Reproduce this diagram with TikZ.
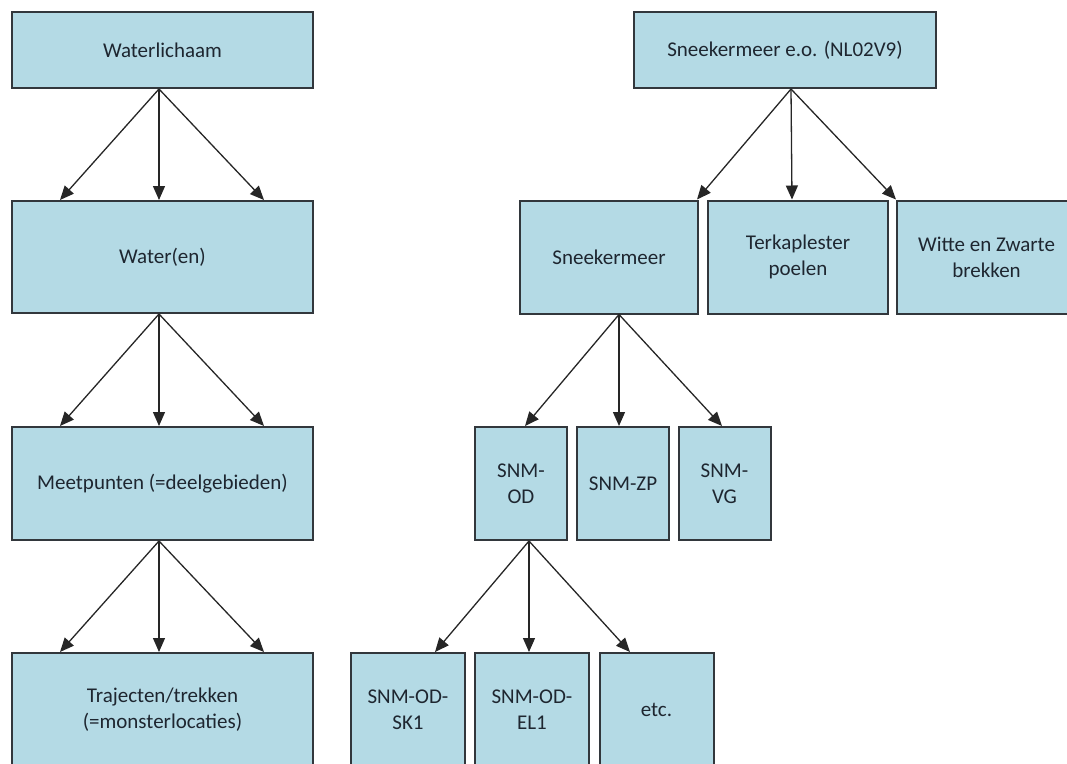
\documentclass[tikz,border=0pt]{standalone}
\usepackage{fontspec}
\setmainfont{Carlito}
\usetikzlibrary{arrows.meta}

\definecolor{vakblauw}{RGB}{180,218,229}
\definecolor{rand}{RGB}{50,55,60}
\definecolor{tekst}{RGB}{30,38,48}

\begin{document}
\begin{tikzpicture}[x=1pt,y=-1pt,
  blok/.style={draw=rand, line width=2pt, fill=vakblauw, align=center, inner sep=0pt,
    text=tekst, font=\fontsize{21}{26}\selectfont},
  pijl/.style={-{Triangle[length=14pt,width=12pt]}, line width=1.3pt, black!85}]
\useasboundingbox (0,0) rectangle (1067,763);
\clip (0,0) rectangle (1067,763);

% algemeen schema
\begin{scope}
  \node[blok, minimum width=301pt, minimum height=76pt] (wl) at (162.5,50) {Waterlichaam};
  \node[blok, minimum width=301pt, minimum height=112pt] (we) at (162.5,257) {Water(en)};
  \node[blok, minimum width=301pt, minimum height=113pt] (mp) at (162.5,483.5) {Meetpunten (=deelgebieden)};
  \node[blok, minimum width=301pt, minimum height=114pt] (tr) at (162.5,710) {Trajecten/trekken\\(=monsterlocaties)};
  \draw[pijl] ([xshift=-3.5pt]wl.south) -- ([xshift=-102.5pt]we.north);
  \draw[pijl] ([xshift=-3.5pt]wl.south) -- ([xshift=-3.5pt]we.north);
  \draw[pijl] ([xshift=-3.5pt]wl.south) -- ([xshift=101.5pt]we.north);
  \draw[pijl] ([xshift=-3.5pt]we.south) -- ([xshift=-102.5pt]mp.north);
  \draw[pijl] ([xshift=-3.5pt]we.south) -- ([xshift=-3.5pt]mp.north);
  \draw[pijl] ([xshift=-3.5pt]we.south) -- ([xshift=101.5pt]mp.north);
  \draw[pijl] ([xshift=-3.5pt]mp.south) -- ([xshift=-102.5pt]tr.north);
  \draw[pijl] ([xshift=-3.5pt]mp.south) -- ([xshift=-3.5pt]tr.north);
  \draw[pijl] ([xshift=-3.5pt]mp.south) -- ([xshift=101.5pt]tr.north);
\end{scope}

% voorbeeld Sneekermeer
\begin{scope}
  \node[blok, minimum width=302pt, minimum height=76pt] (sem) at (785,50) {Sneekermeer e.o. (NL02V9)};
  \node[blok, minimum width=178pt, minimum height=113pt] (snk) at (609,257) {Sneekermeer};
  \node[blok, minimum width=180pt, minimum height=113pt] (terk) at (798,257) {Terkaplester\\poelen};
  \node[blok, minimum width=179pt, minimum height=113pt] (wz) at (986.5,257) {Witte en Zwarte\\brekken};
  \draw[pijl] ([xshift=6pt]sem.south) -- ([xshift=-2pt]snk.north east);
  \draw[pijl] ([xshift=6pt]sem.south) -- ([xshift=-6pt]terk.north);
  \draw[pijl] ([xshift=6pt]sem.south) -- (wz.north west);

  \node[blok, minimum width=92pt, minimum height=113pt] (od) at (521,483.5) {SNM-\\OD};
  \node[blok, minimum width=92pt, minimum height=113pt] (zp) at (623,483.5) {SNM-ZP};
  \node[blok, minimum width=92pt, minimum height=113pt] (vg) at (724.5,483.5) {SNM-\\VG};
  \draw[pijl] ([xshift=10pt]snk.south) -- ([xshift=4pt]od.north);
  \draw[pijl] ([xshift=10pt]snk.south) -- ([xshift=-4pt]zp.north);
  \draw[pijl] ([xshift=10pt]snk.south) -- ([xshift=-2.5pt]vg.north);

  \node[blok, minimum width=114pt, minimum height=114pt] (sk) at (408,710) {SNM-OD-\\SK1};
  \node[blok, minimum width=114pt, minimum height=114pt] (el) at (532,710) {SNM-OD-\\EL1};
  \node[blok, minimum width=114pt, minimum height=114pt] (etc) at (656.5,710) {etc.};
  \draw[pijl] ([xshift=8pt]od.south) -- ([xshift=27pt]sk.north);
  \draw[pijl] ([xshift=8pt]od.south) -- ([xshift=-3pt]el.north);
  \draw[pijl] ([xshift=8pt]od.south) -- ([xshift=-26.5pt]etc.north);
\end{scope}

\end{tikzpicture}
\end{document}
